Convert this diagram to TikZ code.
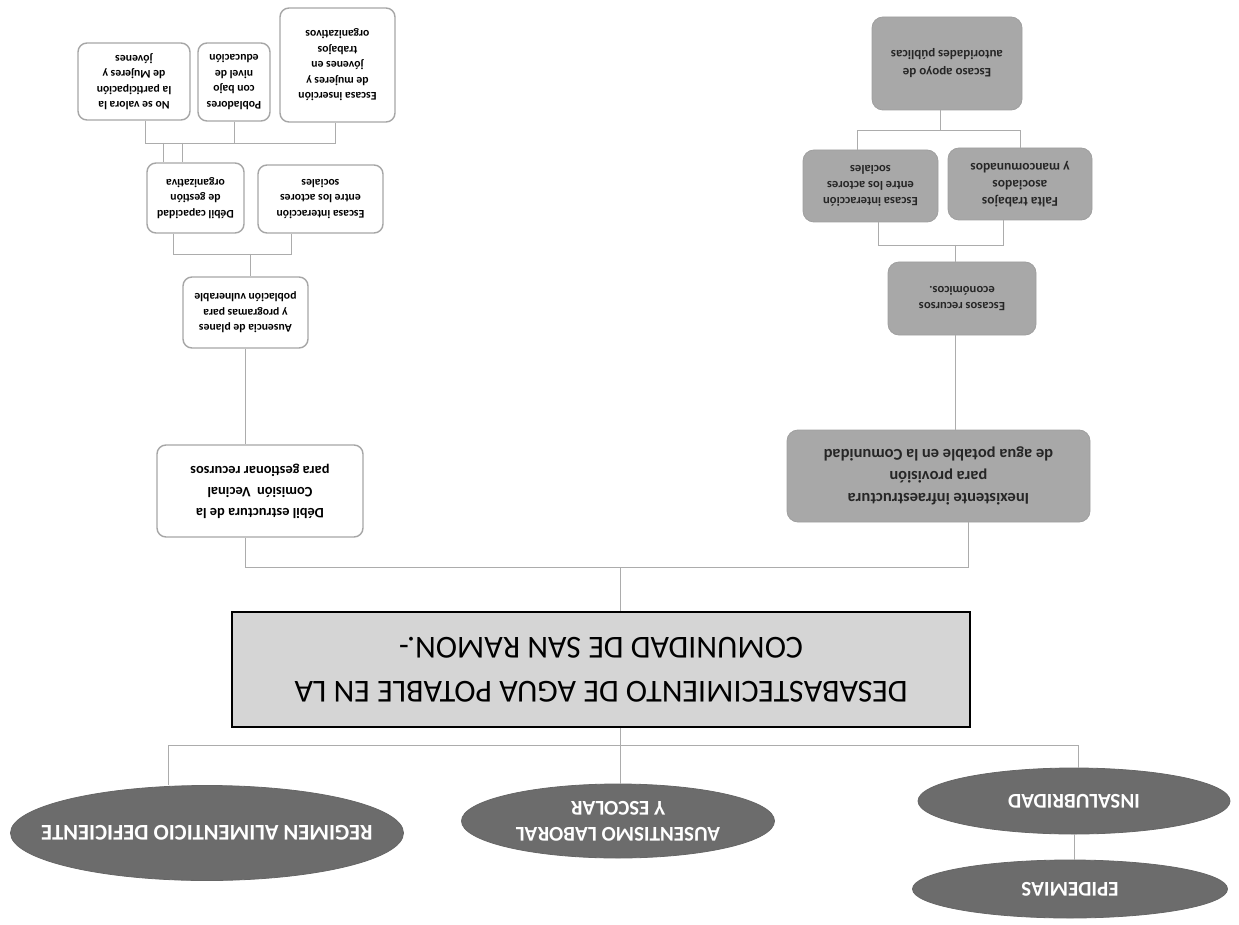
\documentclass[tikz,border=0pt]{standalone}
\usepackage{fontspec}
\setmainfont{Carlito}
\usetikzlibrary{shapes.geometric}
\begin{document}
\begin{tikzpicture}[x=1pt,y=-1pt,
  wbox/.style={draw=gray!70,line width=1.4pt,rounded corners=9pt,fill=white,rotate=180,
    align=center,inner sep=0pt,font=\bfseries\fontsize{11.7}{15.5}\selectfont},
  gbox/.style={draw=gray!75,line width=0.8pt,rounded corners=11pt,fill=gray!68,rotate=180,
    align=center,inner sep=0pt,text=black!85,font=\bfseries\fontsize{12.6}{16}\selectfont},
  mainbox/.style={draw=black,line width=1.6pt,fill=gray!33,rotate=180,align=center,inner sep=0pt,
    font=\fontsize{32}{44}\selectfont},
  oval/.style={ellipse,draw=gray!80!black,line width=0.8pt,fill=gray!85!black,rotate=180,align=center,
    inner sep=0pt,text=white,font=\bfseries\fontsize{21}{26}\selectfont},
  conn/.style={draw=gray!65,line width=0.9pt}
]
\useasboundingbox[fill=white] (0,0) rectangle (1239,925);

% ---- left tree
\node[wbox,minimum width=115pt,minimum height=114pt] (esi) at (337.5,65)
  {Escasa inserción\\de mujeres y\\jóvenes en\\trabajos\\organizativos};
\node[wbox,minimum width=72pt,minimum height=78pt] (pob) at (234,82)
  {Pobladores\\con bajo\\nivel de\\educación};
\node[wbox,minimum width=112pt,minimum height=77pt] (nsv) at (134,81.5)
  {No se valora la\\la participación\\de Mujeres y\\jóvenes};
\node[wbox,minimum width=97pt,minimum height=70pt] (dc) at (195.5,198)
  {Débil capacidad\\de gestión\\organizativa};
\node[wbox,minimum width=125pt,minimum height=68pt] (ei) at (320.5,199)
  {Escasa interacción\\entre los actores\\sociales};
\node[wbox,minimum width=125pt,minimum height=71pt] (aus) at (245.5,312.5)
  {Ausencia de planes\\y programas para\\población vulnerable};
\node[wbox,minimum width=206pt,minimum height=92pt,font=\bfseries\fontsize{14.4}{21}\selectfont] (des) at (260,491)
  {Débil estructura de la\\Comisión\ \ Vecinal\\para gestionar recursos};

% ---- right tree
\node[gbox,minimum width=150pt,minimum height=93pt,font=\bfseries\fontsize{13}{18}\selectfont] (apo) at (947,63.5)
  {Escaso apoyo de\\autoridades públicas};
\node[gbox,minimum width=135pt,minimum height=72pt] (eia) at (870.5,186)
  {Escasa interacción\\entre los actores\\sociales};
\node[gbox,minimum width=144pt,minimum height=72pt,font=\bfseries\fontsize{13.5}{17}\selectfont] (fal) at (1020,184)
  {Falta trabajos\\asociados\\y mancomunados};
\node[gbox,minimum width=148pt,minimum height=73pt] (rec) at (962,298.5)
  {Escasos recursos\\económicos.};
\node[gbox,minimum width=303pt,minimum height=92pt,font=\bfseries\fontsize{16.5}{22}\selectfont] (inex) at (938.5,476)
  {Inexistente infraestructura\\para provisión\\de agua potable en la Comunidad};

% ---- main problem
\node[mainbox,minimum width=738pt,minimum height=115pt] (main) at (601,669.5)
  {DESABASTECIMIENTO DE AGUA POTABLE EN LA\\COMUNIDAD DE SAN RAMON.-};

% ---- effects
\node[oval,minimum width=393pt,minimum height=95pt,inner xsep=-50pt,font=\bfseries\fontsize{22.5}{26}\selectfont] (reg) at (207,833)
  {REGIMEN ALIMENTICIO DEFICIENTE};
\node[oval,minimum width=313pt,minimum height=74pt] (aul) at (618,821)
  {AUSENTISMO LABORAL\\Y ESCOLAR};
\node[oval,minimum width=312pt,minimum height=66pt] (ins) at (1074,801)
  {INSALUBRIDAD};
\node[oval,minimum width=315pt,minimum height=58pt] (epi) at (1070,889)
  {EPIDEMIAS};

% ---- connectors, left
\coordinate (L1a) at (145,143);
\coordinate (L1b) at (335,143);
\coordinate (d1) at (163,143);
\coordinate (d2) at (182,143);
\draw[conn] (nsv.north -| L1a) -- (L1a) -- (L1b) -- (esi.north -| L1b);
\draw[conn] (pob.north) -- (pob.north |- L1a);
\draw[conn] (d1) -- (d1 |- dc.south);
\draw[conn] (d2) -- (d2 |- dc.south);

\coordinate (L2a) at (173,254);
\coordinate (L2b) at (291,254);
\coordinate (L2c) at (250,254);
\draw[conn] (dc.north -| L2a) -- (L2a) -- (L2b) -- (ei.north -| L2b);
\draw[conn] (L2c) -- (L2c |- aus.south);
\draw[conn] (aus.north) -- (aus.north |- des.south);

% ---- connectors, middle
\coordinate (Ma) at (245,567);
\coordinate (Mb) at (968,567);
\coordinate (Mc) at (620,567);
\draw[conn] (des.north -| Ma) -- (Ma) -- (Mb) -- (inex.north -| Mb);
\draw[conn] (Mc) -- (Mc |- main.south);

% ---- connectors, right
\coordinate (R0) at (955,380);
\draw[conn] (R0 |- inex.south) -- (R0 |- rec.north);
\coordinate (R1a) at (878,245);
\coordinate (R1b) at (1003,245);
\coordinate (R1c) at (955,245);
\draw[conn] (eia.north -| R1a) -- (R1a) -- (R1b) -- (fal.north -| R1b);
\draw[conn] (R1c) -- (R1c |- rec.south);
\coordinate (R2a) at (857,130);
\coordinate (R2b) at (1020,130);
\coordinate (R2c) at (940,130);
\draw[conn] (eia.south -| R2a) -- (R2a) -- (R2b) -- (fal.south -| R2b);
\draw[conn] (R2c) -- (R2c |- apo.north);

% ---- connectors, effects
\coordinate (Ba) at (168,745);
\coordinate (Bb) at (1078,745);
\coordinate (Bc) at (620,745);
\draw[conn] (Bc |- main.north) -- (Bc);
\draw[conn] (Ba |- reg.south) -- (Ba) -- (Bb) -- (Bb |- ins.south);
\draw[conn] (Bc) -- (Bc |- aul.south);
\draw[conn] (ins.north) -- (ins.north |- epi.south);
\end{tikzpicture}
\end{document}
